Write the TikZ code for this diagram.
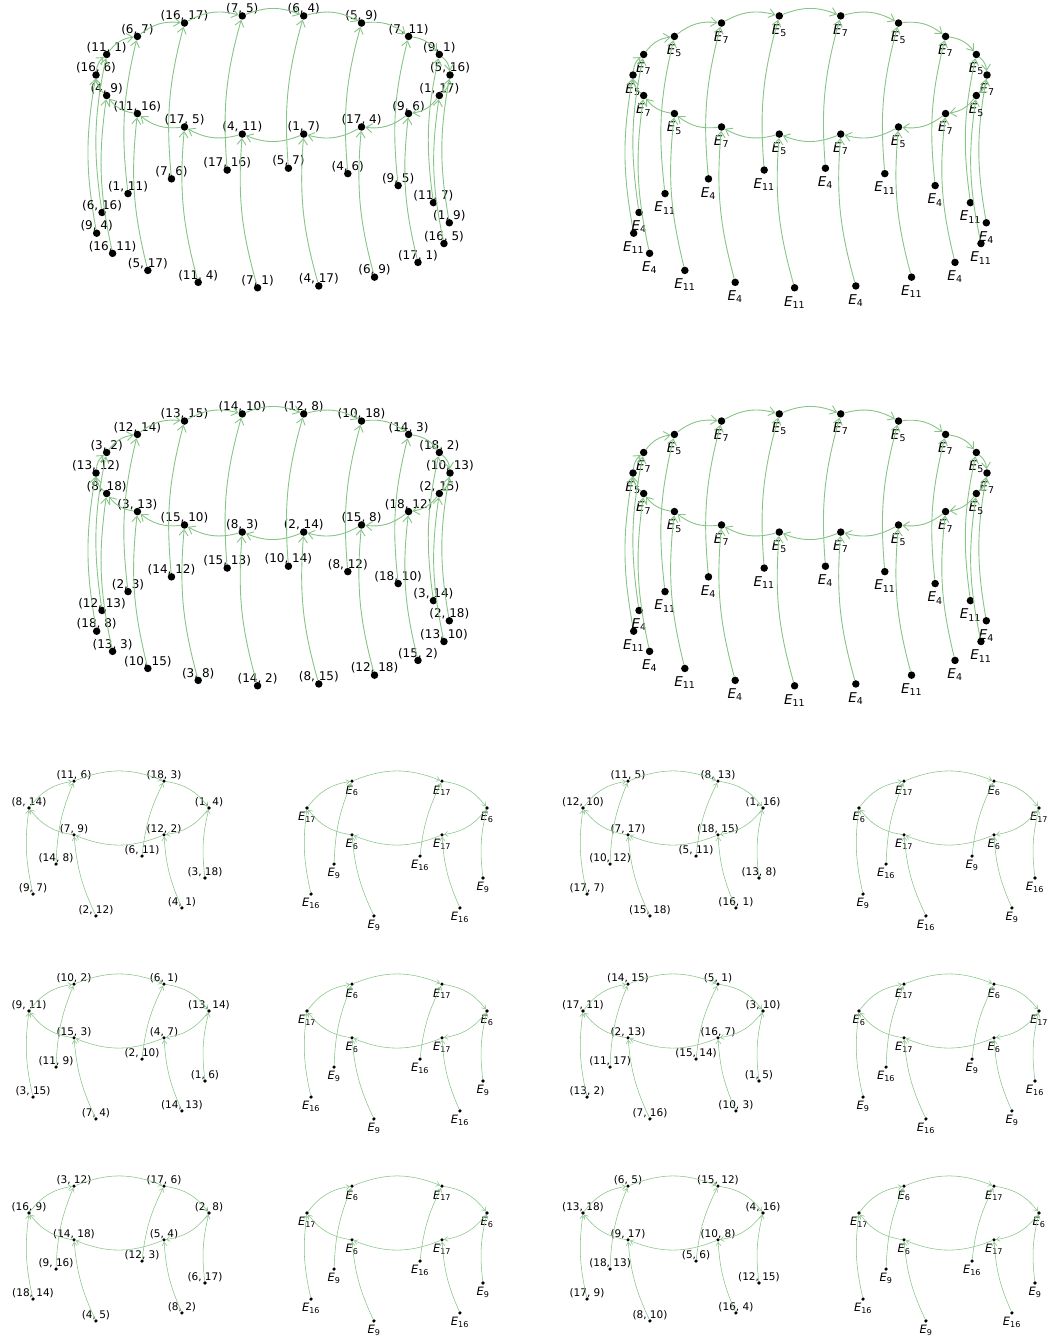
\documentclass[tikz,border=0pt]{standalone}
\usepackage{fontspec}
\setmainfont{DejaVu Sans}
\usetikzlibrary{arrows.meta}
\definecolor{edgegreen}{RGB}{135,196,135}

\begin{document}
\begin{tikzpicture}[x=1pt,y=-1pt,
  bigdot/.style={circle,fill=black,inner sep=0pt,minimum size=7.5pt},
  smalldot/.style={circle,fill=black,inner sep=0pt,minimum size=3.6pt},
  biglab/.style={inner sep=0pt,font=\fontsize{12}{14}\selectfont},
  smalllab/.style={inner sep=0pt,font=\fontsize{10.5}{12}\selectfont},
  bigsub/.style={inner sep=0pt,anchor=north,font=\fontsize{13.5}{15}\selectfont},
  smallsub/.style={inner sep=0pt,anchor=north,font=\fontsize{11.5}{13}\selectfont},
  bigrim/.style={draw=edgegreen,line width=.9pt,
    -{Straight Barb[length=6pt,width=9pt]},bend left=22},
  bigspoke/.style={bigrim,bend left=10},
  smallrim/.style={draw=edgegreen,line width=.55pt,
    -{Straight Barb[length=3.5pt,width=5pt]},bend left=22},
  smallspoke/.style={smallrim,bend left=10}]

\useasboundingbox (0,0) rectangle (1054,1337);

% Large rings of 18 with pair labels; hanging ring 153 below.
\foreach \p/\cx/\cy/\ring/\pend in {
  A/273/75/{16/6,11/1,6/7,16/17,7/5,6/4,5/9,7/11,9/1,5/16,1/17,9/6,17/4,1/7,4/11,17/5,11/16,4/9}/{9/4,6/16,1/11,7/6,17/16,5/7,4/6,9/5,11/7,1/9,16/5,17/1,6/9,4/17,7/1,11/4,5/17,16/11},
  C/273/473/{13/12,3/2,12/14,13/15,14/10,12/8,10/18,14/3,18/2,10/13,2/15,18/12,15/8,2/14,8/3,15/10,3/13,8/18}/{18/8,12/13,2/3,14/12,15/13,10/14,8/12,18/10,3/14,2/18,13/10,15/2,12/18,8/15,14/2,3/8,10/15,13/3}}
{
  \foreach \ma/\mb [count=\k from 0] in \ring
  {
    \pgfmathsetmacro\px{\cx+177*cos(180-20*\k)}
    \pgfmathsetmacro\py{\cy-60*sin(180-20*\k)}
    \node[bigdot] (\p r\k) at (\px,\py) {};
    \node[biglab] (\p rl\k) at (\px,\py-7) {(\ma, \mb)};
  }
  \foreach \ma/\mb [count=\k from 0] in \pend
  {
    \pgfmathsetmacro\px{\cx+177*cos(185-20*\k)}
    \pgfmathsetmacro\py{\cy+153-60*sin(185-20*\k)}
    \node[bigdot] (\p d\k) at (\px,\py) {};
    \node[biglab] (\p dl\k) at (\px,\py-7) {(\ma, \mb)};
    \draw[bigspoke] (\p d\k) to (\p r\k);
  }
  \foreach \k in {0,...,17}
  {
    \pgfmathtruncatemacro\nk{mod(\k+1,18)}
    \draw[bigrim] (\p r\k) to (\p r\nk);
  }
}

% Large rings of 18 with E labels (even/odd alternate).
\foreach \p/\cx/\cy/\ea/\eb/\da/\db in {B/810/75/5/7/11/4,D/810/473/5/7/11/4}
{
  \foreach \k in {0,...,17}
  {
    \ifodd\k\relax \edef\esub{\eb}\edef\dsub{\db}\else \edef\esub{\ea}\edef\dsub{\da}\fi
    \pgfmathsetmacro\px{\cx+177*cos(180-20*\k)}
    \pgfmathsetmacro\py{\cy-60*sin(180-20*\k)}
    \node[bigdot] (\p r\k) at (\px,\py) {};
    \node[bigsub] (\p rl\k) at (\px,\py+8.3) {\textit{E}\textsubscript{\esub}};
    \pgfmathsetmacro\px{\cx+177*cos(185-20*\k)}
    \pgfmathsetmacro\py{\cy+153-60*sin(185-20*\k)}
    \node[bigdot] (\p d\k) at (\px,\py) {};
    \node[bigsub] (\p dl\k) at (\px,\py+8.3) {\textit{E}\textsubscript{\dsub}};
    \draw[bigspoke] (\p d\k) to (\p r\k);
  }
  \foreach \k in {0,...,17}
  {
    \pgfmathtruncatemacro\nk{mod(\k+1,18)}
    \draw[bigrim] (\p r\k) to (\p r\nk);
  }
}

% Small rings of 6 with pair labels; hanging ring 78 below.
\foreach \p/\cx/\cy/\ring/\pend in {
  P1/119/808/{8/14,11/6,18/3,1/4,12/2,7/9}/{9/7,14/8,6/11,3/18,4/1,2/12},
  P2/673/808/{12/10,11/5,8/13,1/16,18/15,7/17}/{17/7,10/12,5/11,13/8,16/1,15/18},
  P3/119/1011/{9/11,10/2,6/1,13/14,4/7,15/3}/{3/15,11/9,2/10,1/6,14/13,7/4},
  P4/673/1011/{17/11,14/15,5/1,3/10,16/7,2/13}/{13/2,11/17,15/14,1/5,10/3,7/16},
  P5/119/1213/{16/9,3/12,17/6,2/8,5/4,14/18}/{18/14,9/16,12/3,6/17,8/2,4/5},
  P6/673/1213/{13/18,6/5,15/12,4/16,10/8,9/17}/{17/9,18/13,5/6,12/15,16/4,8/10}}
{
  \foreach \ma/\mb [count=\k from 0] in \ring
  {
    \pgfmathsetmacro\px{\cx+90*cos(180-60*\k)}
    \pgfmathsetmacro\py{\cy-31*sin(180-60*\k)}
    \node[smalldot] (\p r\k) at (\px,\py) {};
    \node[smalllab] (\p rl\k) at (\px,\py-6) {(\ma, \mb)};
  }
  \foreach \ma/\mb [count=\k from 0] in \pend
  {
    \pgfmathsetmacro\px{\cx+89*cos(195-60*\k)}
    \pgfmathsetmacro\py{\cy+78-31*sin(195-60*\k)}
    \node[smalldot] (\p d\k) at (\px,\py) {};
    \node[smalllab] (\p dl\k) at (\px,\py-6) {(\ma, \mb)};
    \draw[smallspoke] (\p d\k) to (\p r\k);
  }
  \foreach \k in {0,...,5}
  {
    \pgfmathtruncatemacro\nk{mod(\k+1,6)}
    \draw[smallrim] (\p r\k) to (\p r\nk);
  }
}

% Small rings of 6 with E labels.
\foreach \p/\cx/\cy/\ea/\eb/\da/\db in {
  Q1/397/808/17/6/16/9,Q2/949/808/6/17/9/16,
  Q3/397/1011/17/6/16/9,Q4/949/1011/6/17/9/16,
  Q5/397/1213/17/6/16/9,Q6/949/1213/17/6/16/9}
{
  \foreach \k in {0,...,5}
  {
    \ifodd\k\relax \edef\esub{\eb}\edef\dsub{\db}\else \edef\esub{\ea}\edef\dsub{\da}\fi
    \pgfmathsetmacro\px{\cx+90*cos(180-60*\k)}
    \pgfmathsetmacro\py{\cy-31*sin(180-60*\k)}
    \node[smalldot] (\p r\k) at (\px,\py) {};
    \node[smallsub] (\p rl\k) at (\px,\py+4.3) {\textit{E}\textsubscript{\esub}};
    \pgfmathsetmacro\px{\cx+89*cos(195-60*\k)}
    \pgfmathsetmacro\py{\cy+78-31*sin(195-60*\k)}
    \node[smalldot] (\p d\k) at (\px,\py) {};
    \node[smallsub] (\p dl\k) at (\px,\py+4.3) {\textit{E}\textsubscript{\dsub}};
    \draw[smallspoke] (\p d\k) to (\p r\k);
  }
  \foreach \k in {0,...,5}
  {
    \pgfmathtruncatemacro\nk{mod(\k+1,6)}
    \draw[smallrim] (\p r\k) to (\p r\nk);
  }
}
\end{tikzpicture}
\end{document}
